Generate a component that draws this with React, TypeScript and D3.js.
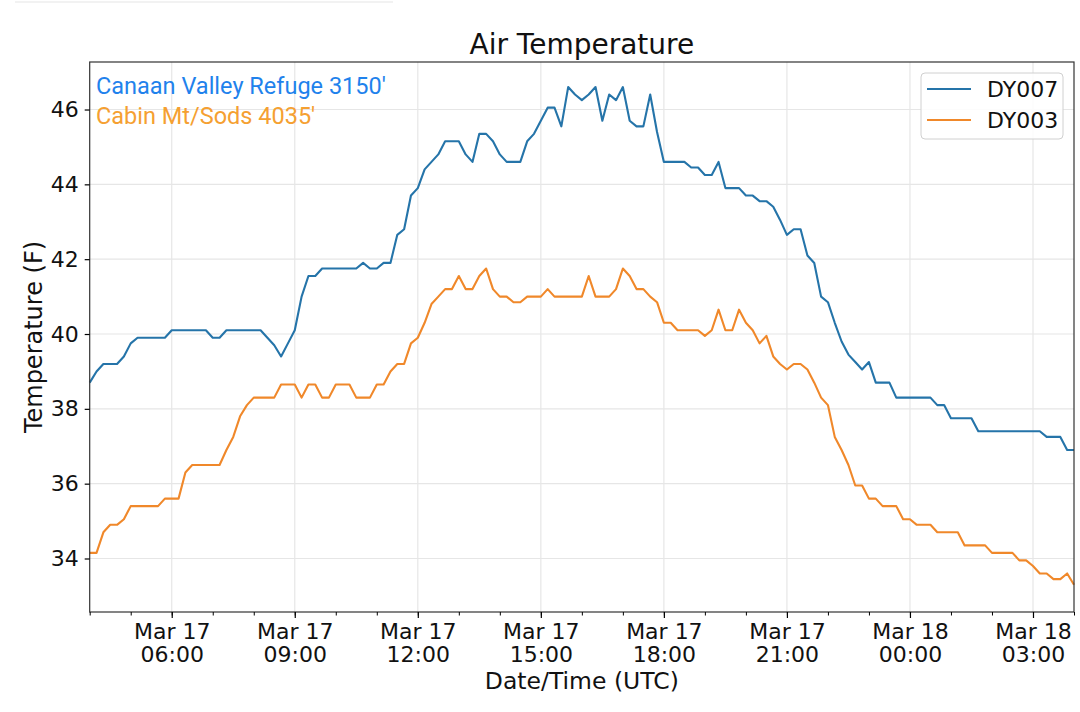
import React, { useEffect, useRef } from 'react';
import * as d3 from 'd3';

// 10-minute readings, Mar 17 04:00 UTC -> Mar 18 04:00 UTC
const startTime = Date.UTC(2018, 2, 17, 4, 0);
const stepMinutes = 10;

const dy007 = [
  38.7, 39.0, 39.2, 39.2, 39.2, 39.4, 39.75, 39.9, 39.9, 39.9, 39.9, 39.9,
  40.1, 40.1, 40.1, 40.1, 40.1, 40.1, 39.9, 39.9, 40.1, 40.1, 40.1, 40.1,
  40.1, 40.1, 39.9, 39.7, 39.4, 39.75, 40.1, 41.0, 41.55, 41.55, 41.75, 41.75,
  41.75, 41.75, 41.75, 41.75, 41.9, 41.75, 41.75, 41.9, 41.9, 42.65, 42.8, 43.7,
  43.9, 44.4, 44.6, 44.8, 45.15, 45.15, 45.15, 44.8, 44.6, 45.35, 45.35, 45.15,
  44.8, 44.6, 44.6, 44.6, 45.15, 45.35, 45.7, 46.05, 46.05, 45.55, 46.6, 46.4,
  46.25, 46.4, 46.6, 45.7, 46.4, 46.25, 46.6, 45.7, 45.55, 45.55, 46.4, 45.4,
  44.6, 44.6, 44.6, 44.6, 44.45, 44.45, 44.25, 44.25, 44.6, 43.9, 43.9, 43.9,
  43.7, 43.7, 43.55, 43.55, 43.4, 43.05, 42.65, 42.8, 42.8, 42.1, 41.9, 41.0,
  40.85, 40.3, 39.8, 39.45, 39.25, 39.05, 39.25, 38.7, 38.7, 38.7, 38.3, 38.3,
  38.3, 38.3, 38.3, 38.3, 38.1, 38.1, 37.75, 37.75, 37.75, 37.75, 37.4, 37.4,
  37.4, 37.4, 37.4, 37.4, 37.4, 37.4, 37.4, 37.4, 37.25, 37.25, 37.25, 36.9,
  36.9,
];

const dy003 = [
  34.15, 34.15, 34.7, 34.9, 34.9, 35.05, 35.4, 35.4, 35.4, 35.4, 35.4, 35.6,
  35.6, 35.6, 36.3, 36.5, 36.5, 36.5, 36.5, 36.5, 36.9, 37.25, 37.8, 38.1,
  38.3, 38.3, 38.3, 38.3, 38.65, 38.65, 38.65, 38.3, 38.65, 38.65, 38.3, 38.3,
  38.65, 38.65, 38.65, 38.3, 38.3, 38.3, 38.65, 38.65, 39.0, 39.2, 39.2, 39.75,
  39.9, 40.3, 40.8, 41.0, 41.2, 41.2, 41.55, 41.2, 41.2, 41.55, 41.75, 41.2,
  41.0, 41.0, 40.85, 40.85, 41.0, 41.0, 41.0, 41.2, 41.0, 41.0, 41.0, 41.0,
  41.0, 41.55, 41.0, 41.0, 41.0, 41.2, 41.75, 41.55, 41.2, 41.2, 41.0, 40.85,
  40.3, 40.3, 40.1, 40.1, 40.1, 40.1, 39.95, 40.1, 40.65, 40.1, 40.1, 40.65,
  40.3, 40.1, 39.75, 39.95, 39.4, 39.2, 39.05, 39.2, 39.2, 39.05, 38.7, 38.3,
  38.1, 37.25, 36.9, 36.5, 35.95, 35.95, 35.6, 35.6, 35.4, 35.4, 35.4, 35.05,
  35.05, 34.9, 34.9, 34.9, 34.7, 34.7, 34.7, 34.7, 34.35, 34.35, 34.35, 34.35,
  34.15, 34.15, 34.15, 34.15, 33.95, 33.95, 33.8, 33.6, 33.6, 33.45, 33.45, 33.6,
  33.3,
];

const seriesNames = ['DY007', 'DY003'];
const seriesColors = ['#2574a9', '#f0882a'];
const yTicks = [34, 36, 38, 40, 42, 44, 46];
const siteLabels = ["Canaan Valley Refuge 3150'", "Cabin Mt/Sods 4035'"];
const siteColors = ['#1f82ec', '#f5a031'];

const W = 1080;
const H = 712;
const M = { left: 89.7, right: 1074, top: 62, bottom: 612 };
const FONT = '"DejaVu Sans", sans-serif';

const App: React.FC = () => {
  const svgRef = useRef<SVGSVGElement>(null);

  useEffect(() => {
    if (!svgRef.current) return;
    const svg = d3.select(svgRef.current);
    svg.selectAll('*').remove();

    const times = dy007.map((_, i) => new Date(startTime + i * stepMinutes * 60000));
    const x = d3.scaleUtc().domain([times[0], times[times.length - 1]]).range([M.left, M.right]);
    const y = d3.scaleLinear().domain([32.57, 47.27]).range([M.bottom, M.top]);

    // faint rule at the top of the page
    svg.append('line').attr('x1', 15).attr('x2', 393).attr('y1', 2).attr('y2', 2)
      .attr('stroke', '#eeeeee').attr('stroke-width', 1.5);

    // grid
    const majorX = x.ticks(d3.utcHour.every(3)!);
    const minorX = x.ticks(d3.utcHour.every(1)!);
    const grid = svg.append('g');
    grid.selectAll('line.gx').data(majorX).join('line')
      .attr('x1', d => x(d)).attr('x2', d => x(d)).attr('y1', M.top).attr('y2', M.bottom)
      .attr('stroke', '#e6e6e6').attr('stroke-width', 1.2);
    grid.selectAll('line.gy').data(yTicks).join('line')
      .attr('x1', M.left).attr('x2', M.right).attr('y1', d => y(d)).attr('y2', d => y(d))
      .attr('stroke', '#e6e6e6').attr('stroke-width', 1.2);

    // lines
    const line = d3.line<number>().x((_, i) => x(times[i])).y(d => y(d));
    [dy007, dy003].forEach((s, k) => {
      svg.append('path').datum(s).attr('fill', 'none')
        .attr('stroke', seriesColors[k]).attr('stroke-width', 2.1)
        .attr('stroke-linejoin', 'round').attr('d', line);
    });

    // frame
    svg.append('rect').attr('x', M.left).attr('y', M.top)
      .attr('width', M.right - M.left).attr('height', M.bottom - M.top)
      .attr('fill', 'none').attr('stroke', '#333').attr('stroke-width', 1.2);

    // x axis
    const xAxis = svg.append('g').attr('transform', `translate(0,${M.bottom})`)
      .call(d3.axisBottom(x).tickValues(majorX).tickSize(6).tickSizeOuter(0).tickFormat(() => ''));
    xAxis.select('.domain').remove();
    xAxis.selectAll('line').attr('stroke', '#000').attr('stroke-width', 1.2);
    xAxis.selectAll<SVGTextElement, Date>('.tick text').each(function (d) {
      const t = d3.select(this).attr('y', 0).attr('dy', null)
        .attr('font-family', FONT).attr('font-size', 22).attr('fill', '#111');
      t.append('tspan').attr('x', 0).attr('y', 27).text(d3.utcFormat('%b %d')(d));
      t.append('tspan').attr('x', 0).attr('y', 50).text(d3.utcFormat('%H:%M')(d));
    });
    const xMinor = svg.append('g').attr('transform', `translate(0,${M.bottom})`)
      .call(d3.axisBottom(x).tickValues(minorX).tickSize(3.5).tickSizeOuter(0).tickFormat(() => ''));
    xMinor.select('.domain').remove();
    xMinor.selectAll('line').attr('stroke', '#000').attr('stroke-width', 1);

    // y axis
    const yAxis = svg.append('g').attr('transform', `translate(${M.left},0)`)
      .call(d3.axisLeft(y).tickValues(yTicks).tickSize(5).tickSizeOuter(0).tickPadding(6));
    yAxis.select('.domain').remove();
    yAxis.selectAll('line').attr('stroke', '#000').attr('stroke-width', 1.2);
    yAxis.selectAll('text').attr('font-family', FONT).attr('font-size', 22).attr('fill', '#111');

    // titles
    svg.append('text').attr('x', (M.left + M.right) / 2).attr('y', 54)
      .attr('text-anchor', 'middle').attr('font-family', FONT).attr('font-size', 28)
      .attr('fill', '#111').text('Air Temperature');
    svg.append('text').attr('x', (M.left + M.right) / 2).attr('y', 689)
      .attr('text-anchor', 'middle').attr('font-family', FONT).attr('font-size', 23.5)
      .attr('fill', '#111').text('Date/Time (UTC)');
    svg.append('text').attr('transform', `translate(42,${(M.top + M.bottom) / 2}) rotate(-90)`)
      .attr('text-anchor', 'middle').attr('font-family', FONT).attr('font-size', 24)
      .attr('fill', '#111').text('Temperature (F)');

    // site annotations
    siteLabels.forEach((s, i) => {
      svg.append('text').attr('x', 96).attr('y', 94 + i * 30)
        .attr('font-family', 'Roboto, sans-serif').attr('font-size', 23.5)
        .attr('fill', siteColors[i]).text(s);
    });

    // legend
    const lg = svg.append('g');
    lg.append('rect').attr('x', 921).attr('y', 73).attr('width', 142).attr('height', 66)
      .attr('rx', 4).attr('fill', 'white').attr('fill-opacity', 0.85)
      .attr('stroke', '#d0d0d0').attr('stroke-width', 1);
    seriesNames.forEach((n, i) => {
      const cy = 89 + i * 31;
      lg.append('line').attr('x1', 927).attr('x2', 971).attr('y1', cy).attr('y2', cy)
        .attr('stroke', seriesColors[i]).attr('stroke-width', 2.1);
      lg.append('text').attr('x', 987).attr('y', cy + 8)
        .attr('font-family', FONT).attr('font-size', 22).attr('fill', '#111').text(n);
    });
  }, []);

  return (
    <svg
      ref={svgRef}
      width={W}
      height={H}
      style={{ position: 'absolute', left: 0, top: 0, background: 'white' }}
    />
  );
};

export default App;
